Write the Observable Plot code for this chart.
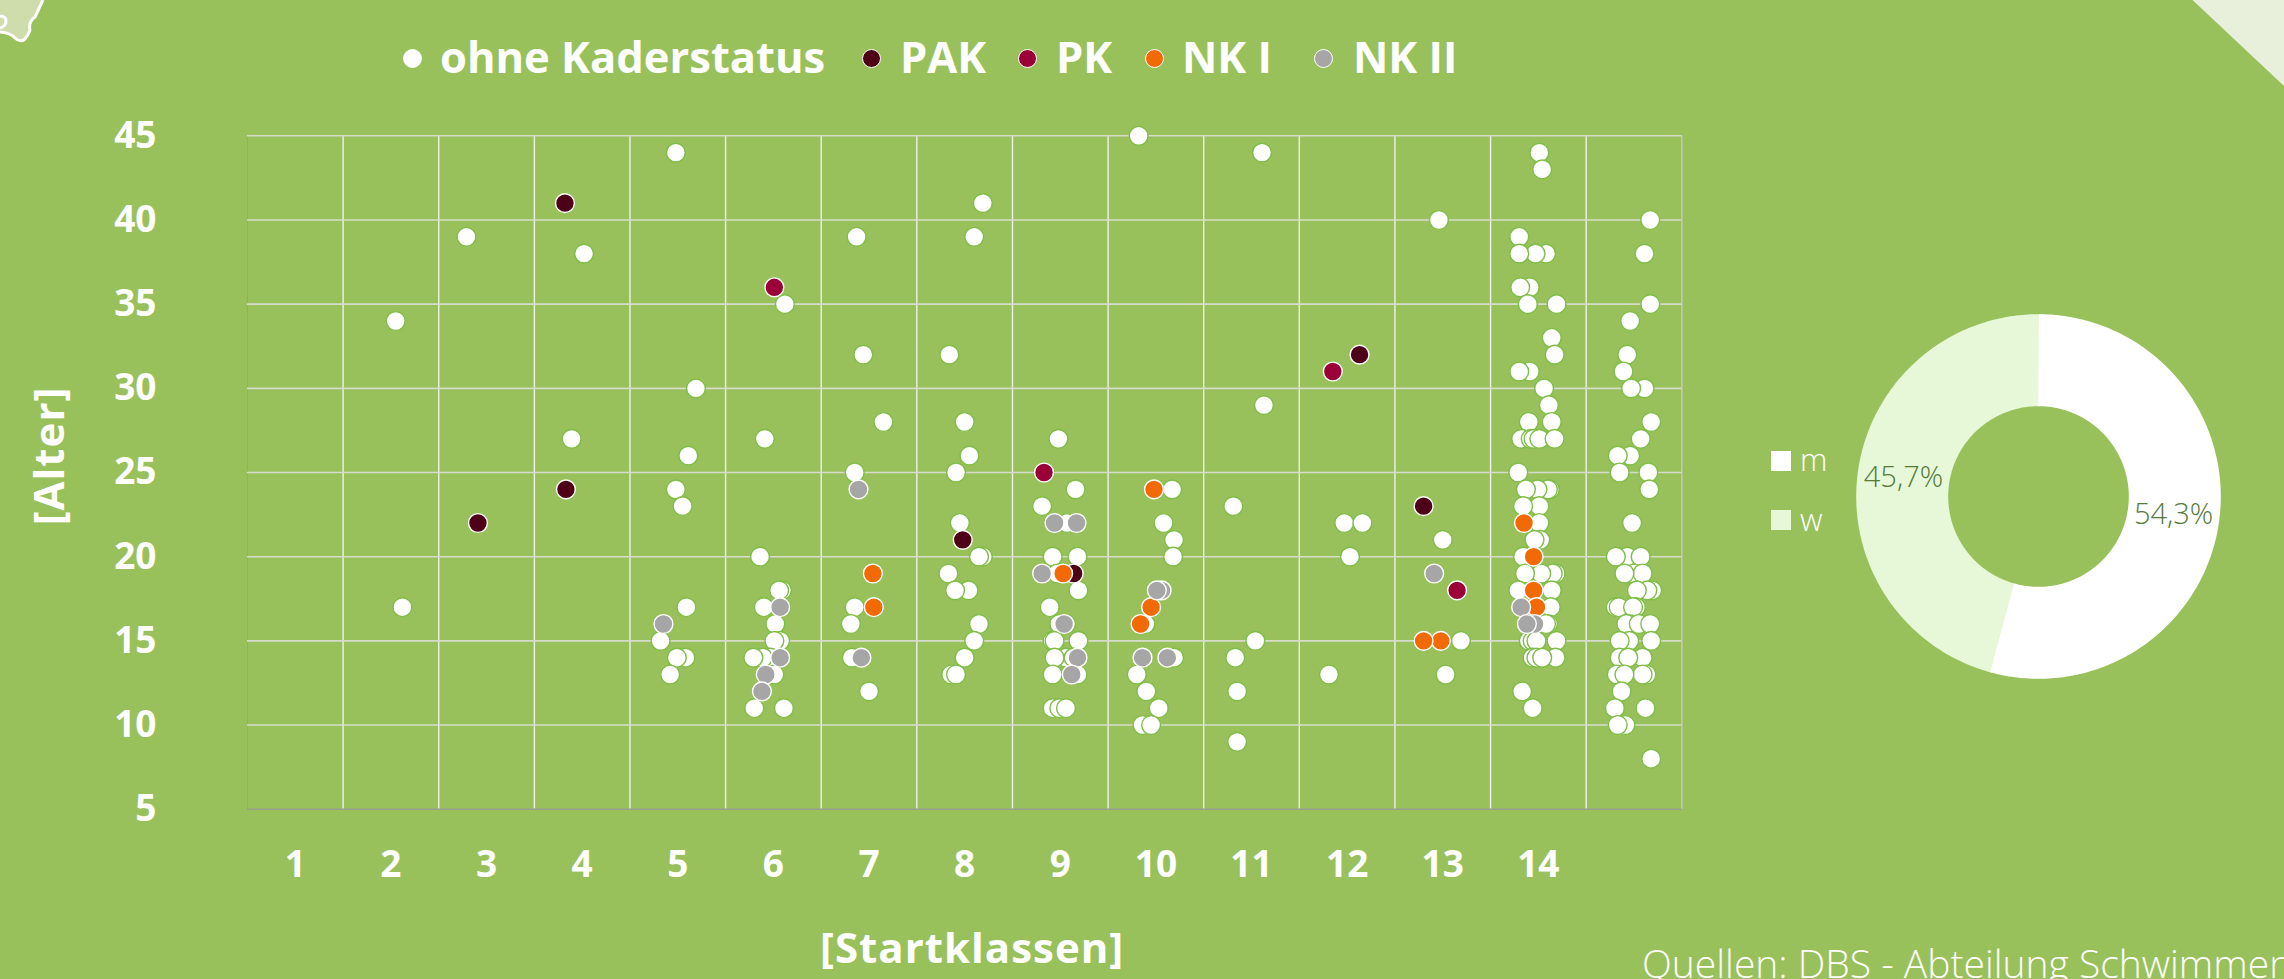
<!DOCTYPE html>
<html lang="de">
<head>
<meta charset="utf-8">
<title>Startklassen und Alter</title>
<script src="https://cdn.jsdelivr.net/npm/d3@7"></script>
<script src="https://cdn.jsdelivr.net/npm/@observablehq/plot@0.6"></script>
<style>
  html, body { margin: 0; padding: 0; background: #99c15b; }
  body { position: relative; width: 2284px; height: 979px; overflow: hidden; font-family: "Open Sans", sans-serif; color: #fff; }
  #chart, #donut { position: absolute; }
  #chart { left: 0; top: 0; }
  #donut { left: 1838px; top: 296px; }
  #chart svg, #donut svg { display: block; background: transparent; }
  .t { position: absolute; white-space: nowrap; line-height: 1; }
  .leg { font-size: 43.5px; font-weight: 700; transform: translateY(-50%); top: 57px; }
  .ld { position: absolute; top: 49px; width: 19px; height: 19px; border-radius: 50%; border: 1px solid #fff; box-sizing: border-box; }
  .axt { font-size: 42px; font-weight: 700; letter-spacing: 1px; }
  .sw { position: absolute; width: 20px; height: 20px; }
  .g { font-size: 31px; font-weight: 300; transform: translateY(-50%); }
  #deco { position: absolute; left: 0; top: 0; }
</style>
</head>
<body>
<svg id="deco" width="2284" height="90" viewBox="0 0 2284 90">
  <path d="M2192.5 0 L2284 86 L2284 0 Z" fill="#e8efdb"/>
  <path d="M0 0 L43 0 L35 17 Q28 22 30 30 Q28 36 25 39 Q20 43 15 38 Q11 33 0 32 Z" fill="#cfdcab"/>
  <path d="M43 0 L35 17 Q28 22 30 30 Q28 36 25 39 Q20 43 15 38 Q11 33 0 32 M0 16 Q6 16 6 21 Q6 26 0 28" fill="none" stroke="#fff" stroke-width="3"/>
</svg>
<div id="chart"></div>
<div id="donut"></div>
<script>
// Startklasse (with the chart's horizontal scatter) and Alter, per Kaderstatus
const ohneKaderstatus = [
  [2.05,34],[2.12,17],[2.79,39],[4.02,38],[3.89,27],
  [4.98,44],[5.19,30],[5.11,26],[4.98,24],[5.05,23],[5.09,17],[4.82,15],[5.08,14],[4.99,14],[4.92,13],
  [6.12,35],[5.91,27],[5.86,20],[6.09,18],[6.06,18],[5.90,17],[6.02,16],[6.07,15],[6.01,15],[5.97,14],[5.89,14],[5.79,14],[6.01,13],[5.80,11],[6.11,11],
  [6.87,39],[6.94,32],[7.15,28],[6.85,25],[6.85,17],[6.81,16],[6.82,14],[7.00,12],
  [8.19,41],[8.10,39],[7.84,32],[8.00,28],[8.05,26],[7.91,25],[7.95,22],[8.19,20],[8.15,20],[7.83,19],[8.04,18],[7.90,18],[8.15,16],[8.10,15],[8.00,14],[7.86,13],[7.91,13],
  [8.98,27],[9.16,24],[8.81,23],[9.07,22],[8.92,20],[9.18,20],[8.97,19],[9.19,18],[8.89,17],[9.06,16],[8.99,16],[8.92,15],[8.94,15],[9.19,15],[9.06,14],[9.14,14],[8.94,14],[9.18,13],[8.92,13],[8.92,11],[8.99,11],[9.06,11],
  [9.82,45],[10.17,24],[10.08,22],[10.19,21],[10.18,20],[9.89,16],[10.19,14],[9.80,13],[9.90,12],[10.03,11],[9.86,10],[9.95,10],
  [11.11,44],[11.13,29],[10.81,23],[11.04,15],[10.83,14],[10.85,12],[10.85,9],
  [11.97,22],[12.16,22],[12.03,20],[11.81,13],
  [12.96,40],[13.00,21],[13.19,15],[13.03,13],
  [14.01,44],[14.04,43],[13.80,39],[14.08,38],[13.97,38],[13.80,38],[13.91,36],[13.81,36],[13.89,35],[14.19,35],[14.14,33],[14.17,32],[13.91,31],[13.80,31],[14.06,30],[14.11,29],[13.90,28],[14.14,28],
  [13.82,27],[13.92,27],[13.95,27],[14.01,27],[14.17,27],[13.79,25],[14.12,24],[14.10,24],[13.99,24],[13.87,24],[14.01,23],[13.84,23],[14.01,22],[14.02,21],[13.96,21],[13.84,20],
  [14.18,19],[14.15,19],[14.03,19],[13.86,19],[13.79,18],[14.14,18],[14.13,17],[14.10,16],[14.08,16],[13.90,15],[13.94,15],[13.98,15],[14.19,15],[13.94,14],[14.18,14],[13.98,14],[14.04,14],[13.83,12],[13.94,11],
  [15.17,40],[15.11,38],[15.17,35],[14.96,34],[14.93,32],[14.89,31],[15.11,30],[14.97,30],[15.18,28],[15.07,27],[14.96,26],[14.83,26],[14.85,25],[15.15,25],[15.16,24],[14.98,22],
  [14.93,20],[14.81,20],[15.07,20],[15.00,19],[15.09,19],[14.90,19],[15.19,18],[15.14,18],[15.03,18],[14.81,17],[15.02,17],[14.84,17],[14.99,17],[14.95,16],[14.92,16],[15.05,16],[15.17,16],
  [14.95,15],[14.85,15],[15.18,15],[14.85,14],[15.09,14],[14.94,14],[15.13,13],[15.09,13],[14.82,13],[14.90,13],[14.87,12],[14.80,11],[15.12,11],[14.91,10],[14.83,10],[15.18,8]
];
const pak = [[3.82,41],[3.83,24],[2.91,22],[7.98,21],[9.14,19],[12.13,32],[12.80,23]];
const pk = [[6.01,36],[8.83,25],[11.85,31],[13.15,18]];
const nk1 = [[7.04,19],[7.05,17],[9.03,19],[9.98,24],[9.95,17],[9.84,16],[12.98,15],[12.80,15],[13.85,22],[13.95,20],[13.95,18],[13.98,17]];
const nk2 = [[4.85,16],[6.07,17],[6.07,14],[5.92,13],[5.88,12],[6.89,24],[6.92,14],[8.94,22],[9.17,22],[8.81,19],[9.04,16],[9.18,14],[9.12,13],[10.06,18],[10.01,18],[9.86,14],[10.12,14],[12.91,19],[13.82,17],[13.96,16],[13.88,16]];

const statusNames = ["ohne Kaderstatus", "PAK", "PK", "NK I", "NK II"];
const statusColors = ["#ffffff", "#4e0018", "#9b0038", "#f26a06", "#a6a6a6"];
const statusSeries = [ohneKaderstatus, pak, pk, nk1, nk2];

const yTicks = [5, 10, 15, 20, 25, 30, 35, 40, 45];
const xTicks = [1, 2, 3, 4, 5, 6, 7, 8, 9, 10, 11, 12, 13, 14];
const xBounds = [1.5, 2.5, 3.5, 4.5, 5.5, 6.5, 7.5, 8.5, 9.5, 10.5, 11.5, 12.5, 13.5, 14.5];

const genderNames = ["m", "w"];
const genderShares = [54.3, 45.7];
const genderColors = ["#ffffff", "#e6f8d7"];
const genderLabels = ["54,3%", "45,7%"];

const rows = statusSeries.flatMap((s, i) => s.map(([x, alter]) => ({x, alter, status: statusNames[i]})));

const FONT = "'Open Sans', sans-serif";
const scatter = Plot.plot({
  width: 2284, height: 979,
  marginLeft: 247, marginRight: 602.7, marginTop: 135.3, marginBottom: 170.3,
  style: {background: "transparent", fontFamily: FONT},
  x: {domain: [0.5, 15.5], axis: null},
  y: {domain: [5, 45], axis: null},
  color: {domain: statusNames, range: statusColors},
  marks: [
    Plot.ruleX(xBounds, {stroke: "#eef1e6", strokeWidth: 1.4}),
    Plot.ruleX([0.5], {stroke: "#8fb654", strokeWidth: 1}),
    Plot.ruleX([15.5], {stroke: "#c2c6b8", strokeWidth: 1.6}),
    Plot.ruleY(yTicks.filter(d => d > 5), {stroke: "#d6dccb", strokeWidth: 1.6}),
    Plot.ruleY([5], {stroke: "#9a9f90", strokeWidth: 1.6}),
    Plot.axisY({ticks: yTicks, tickSize: 0, tickPadding: 91, fontSize: 37, fontWeight: 700, fill: "#fff", label: null}),
    Plot.axisX({ticks: xTicks, tickSize: 0, tickPadding: 42, fontSize: 37, fontWeight: 700, fill: "#fff", label: null}),
    Plot.dot(rows.filter(d => d.status === statusNames[0]), {x: "x", y: "alter", r: 9.4, fill: "#fff", stroke: "#7fbd47", strokeWidth: 1.4}),
    Plot.dot(rows.filter(d => d.status !== statusNames[0]), {x: "x", y: "alter", r: 9.4, fill: "status", stroke: "#fff", strokeWidth: 1.4})
  ]
});
document.getElementById("chart").append(scatter);

// donut: each slice is a thick line running round the ring, driven by its share
const seamOverlap = 0.3;
let from = 0;
const ringRows = genderShares.flatMap((share, i) => {
  const a0 = from - (i ? seamOverlap : 0), a1 = from + share + (i ? seamOverlap : 0);
  from += share;
  const n = Math.ceil(share * 4);
  return d3.range(n + 1).map(k => {
    const t = (a0 + (a1 - a0) * k / n) / 100 * 2 * Math.PI;
    return {g: genderNames[i], rx: Math.sin(t), ry: Math.cos(t)};
  });
}).reverse();
from = 0;
const ringLabels = genderShares.map((share, i) => {
  const t = (from + share / 2) / 100 * 2 * Math.PI;
  from += share;
  return {rx: Math.sin(t), ry: Math.cos(t), label: genderLabels[i]};
});
const donutSize = 400, midRadius = 136.3, half = donutSize / 2 / midRadius;
const donut = Plot.plot({
  width: donutSize, height: donutSize, margin: 0,
  style: {background: "transparent", fontFamily: FONT},
  x: {domain: [-half, half], axis: null},
  y: {domain: [-half, half], axis: null},
  color: {domain: genderNames, range: genderColors},
  marks: [
    Plot.line(ringRows, {x: "rx", y: "ry", z: "g", stroke: "g", strokeWidth: 92, strokeLinecap: "butt", strokeLinejoin: "round"}),
    Plot.text(ringLabels, {x: "rx", y: "ry", text: "label", fontSize: 29, fontWeight: 300, fill: "#557a39"})
  ]
});
document.getElementById("donut").append(donut);

// page text
function addText(cls, text, css) {
  const el = document.createElement("div");
  el.className = "t " + cls;
  el.textContent = text;
  Object.assign(el.style, css);
  document.body.append(el);
  return el;
}
const legendDotX = [403, 862, 1018, 1145, 1314];
const legendTextX = [440, 900, 1056, 1182, 1353];
statusNames.forEach((name, i) => {
  const d = document.createElement("div");
  d.className = "ld";
  d.style.left = legendDotX[i] + "px";
  d.style.background = statusColors[i];
  document.body.append(d);
  addText("leg", name, {left: legendTextX[i] + "px"});
});
addText("axt", "[Startklassen]", {left: "820px", top: "926px"});
addText("axt", "[Alter]", {left: "48px", top: "456px", transform: "translate(-50%,-50%) rotate(-90deg)"});
addText("", "Quellen: DBS - Abteilung Schwimmen", {left: "1642px", top: "943px", fontSize: "39px", fontWeight: 300});
genderNames.forEach((g, i) => {
  const s = document.createElement("div");
  s.className = "sw";
  s.style.left = "1771px";
  s.style.top = [451, 510][i] + "px";
  s.style.background = genderColors[i];
  document.body.append(s);
  addText("g", g, {left: "1800px", top: [459, 519][i] + "px"});
});
</script>
</body>
</html>
